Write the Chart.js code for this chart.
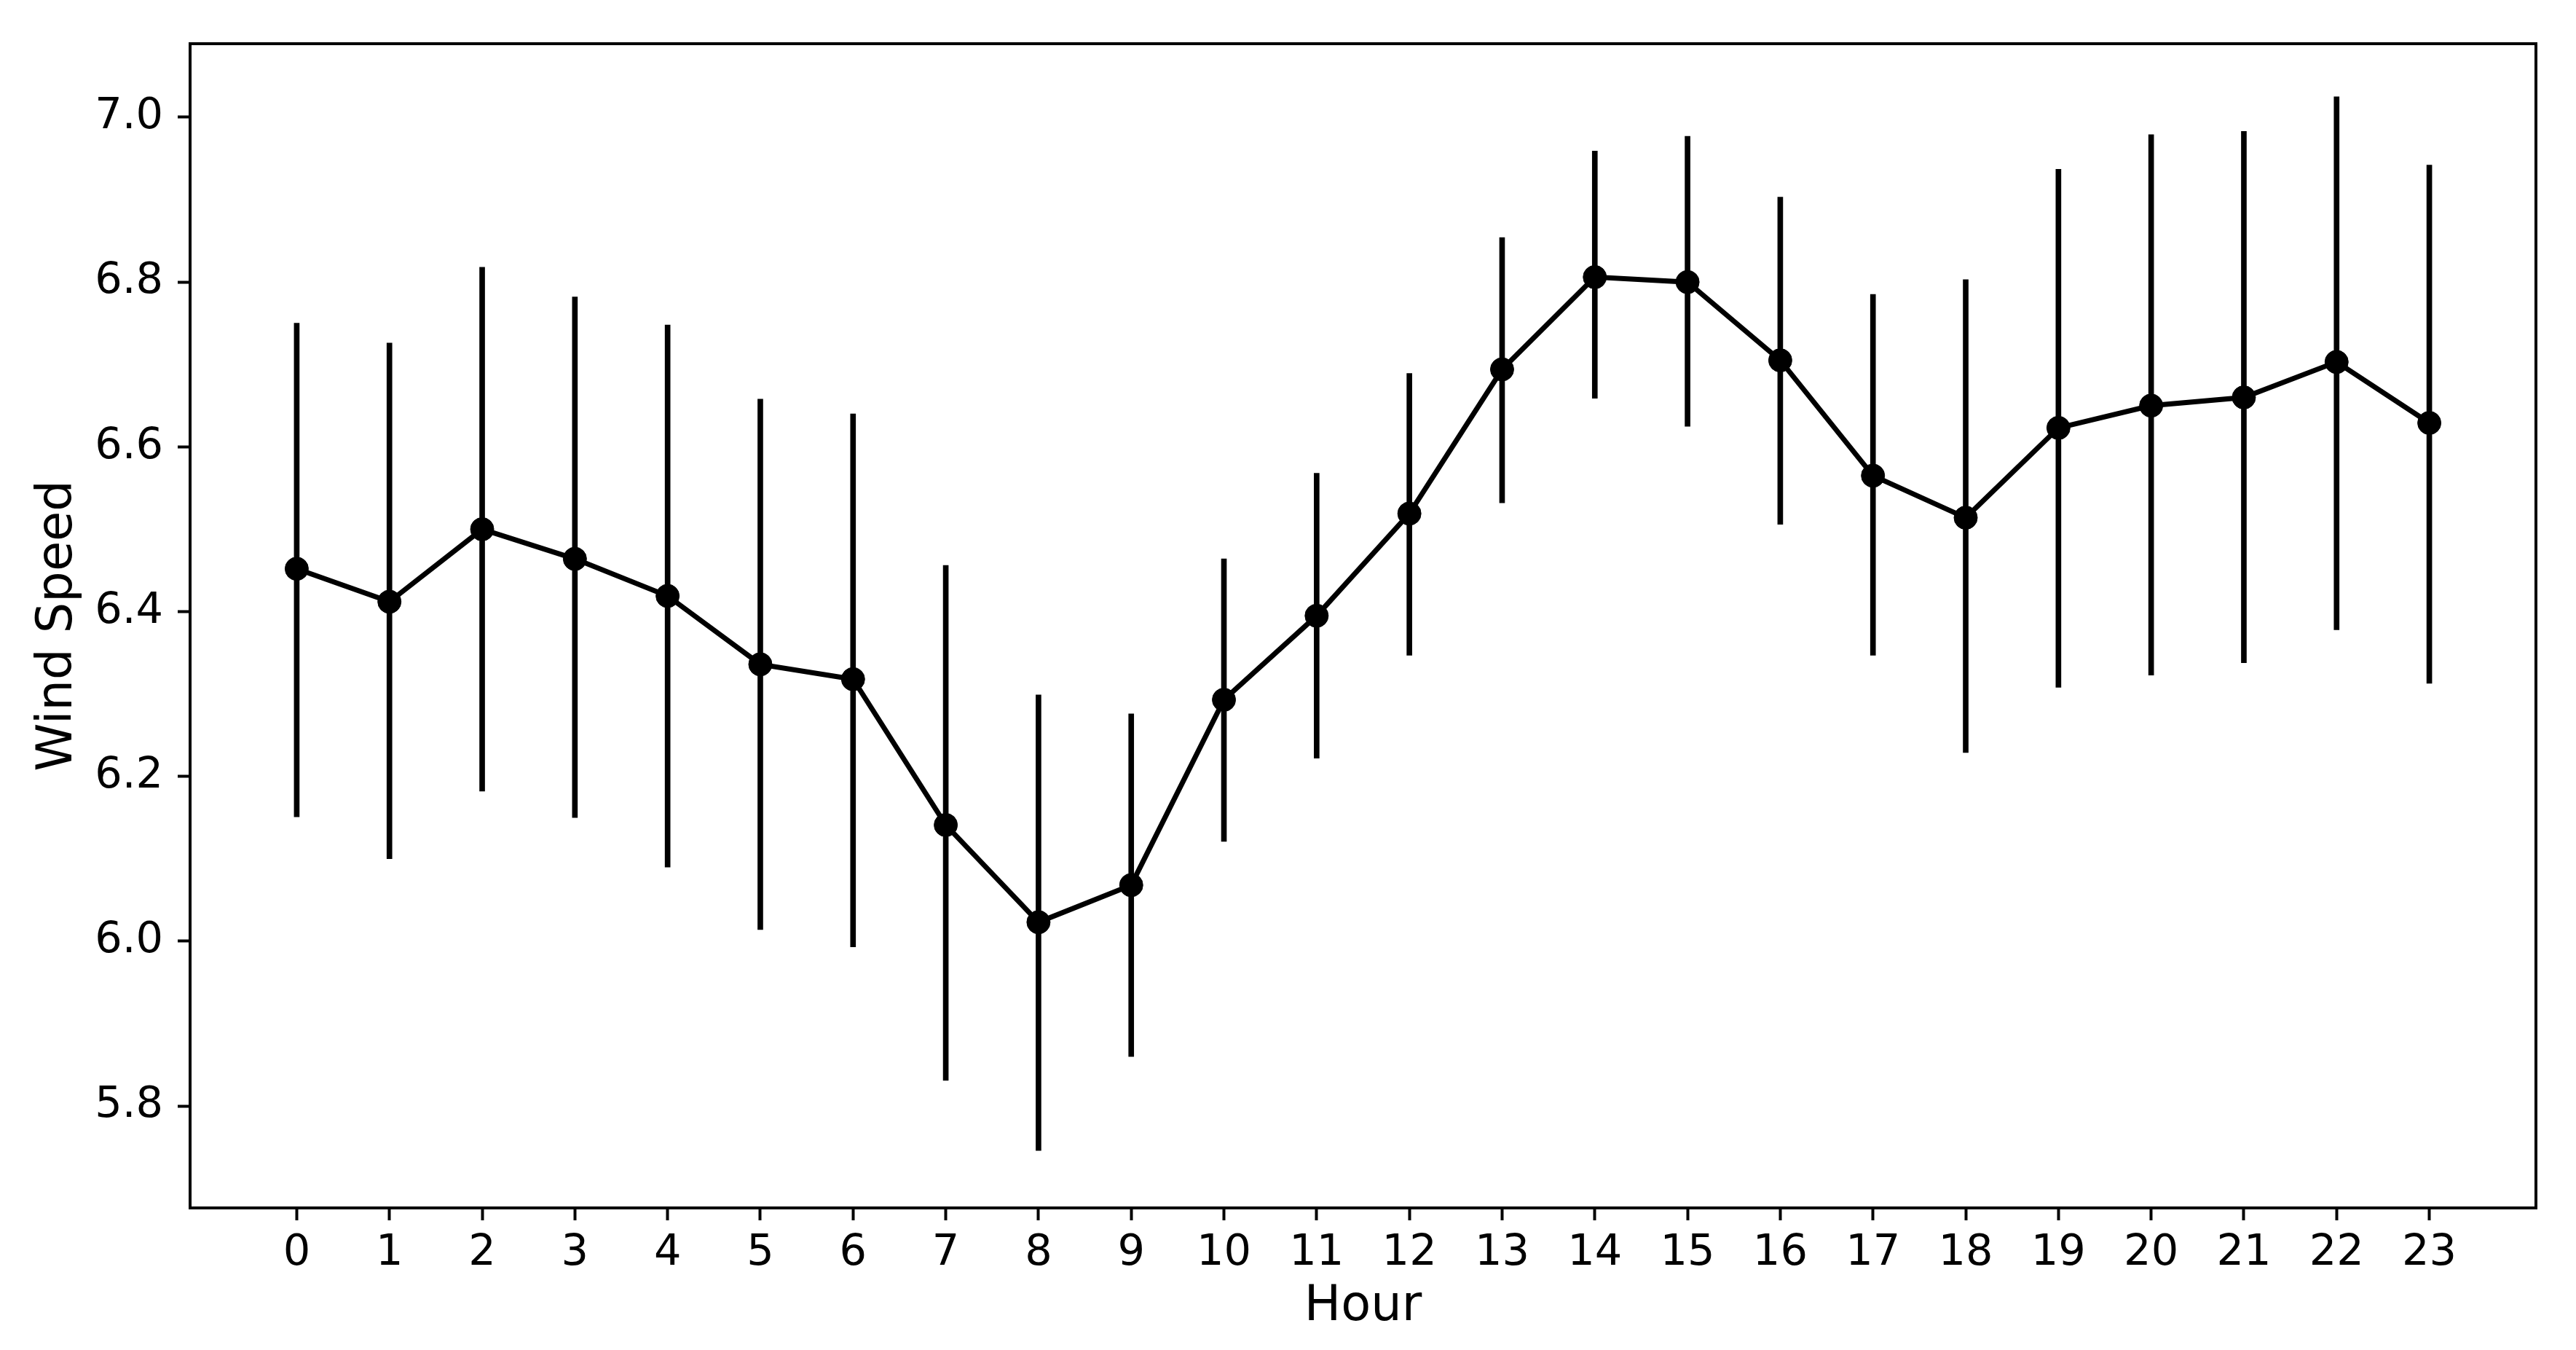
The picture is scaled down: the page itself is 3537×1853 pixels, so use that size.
<!DOCTYPE html>
<html>
<head>
<meta charset="utf-8">
<style>
  html, body { margin: 0; padding: 0; background: #ffffff; }
  #wrap { width: 3537px; height: 1853px; }
</style>
<script src="https://cdn.jsdelivr.net/npm/chart.js@4/dist/chart.umd.min.js"></script>
</head>
<body>
<div id="wrap"><canvas id="c" width="3537" height="1853"></canvas></div>
<script>
const hours = [0,1,2,3,4,5,6,7,8,9,10,11,12,13,14,15,16,17,18,19,20,21,22,23];
const meanSpeed = [6.452, 6.412, 6.500, 6.464, 6.419, 6.336, 6.318, 6.141, 6.023, 6.068, 6.293, 6.395,
                   6.519, 6.694, 6.806, 6.800, 6.705, 6.565, 6.514, 6.623, 6.650, 6.660, 6.703, 6.629];
const lowerSpeed = [6.151, 6.100, 6.182, 6.150, 6.090, 6.014, 5.993, 5.831, 5.746, 5.860, 6.121, 6.222,
                    6.347, 6.532, 6.659, 6.625, 6.506, 6.347, 6.229, 6.308, 6.323, 6.338, 6.378, 6.313];
const upperSpeed = [6.750, 6.726, 6.818, 6.782, 6.748, 6.658, 6.640, 6.456, 6.299, 6.276, 6.464, 6.568,
                    6.689, 6.854, 6.959, 6.977, 6.903, 6.785, 6.803, 6.937, 6.979, 6.983, 7.025, 6.942];
const yTickValues = [5.8, 6.0, 6.2, 6.4, 6.6, 6.8, 7.0];
const xTitle = 'Hour';
const yTitle = 'Wind Speed';

const FONT = "'DejaVu Sans', sans-serif";

const framePlugin = {
  id: 'frame',
  afterDatasetsDraw(chart) {
    const {ctx, chartArea: a} = chart;
    ctx.save();
    ctx.strokeStyle = '#000';
    ctx.lineWidth = 4;
    ctx.strokeRect(a.left, a.top, a.right - a.left, a.bottom - a.top);
    ctx.restore();
  }
};

new Chart(document.getElementById('c'), {
  type: 'line',
  data: {
    datasets: [
      {
        type: 'line',
        label: 'mean',
        data: hours.map((h, i) => ({x: h, y: meanSpeed[i]})),
        borderColor: '#000',
        backgroundColor: '#000',
        borderWidth: 7,
        pointRadius: 16,
        pointBorderWidth: 1,
        pointBackgroundColor: '#000',
        pointBorderColor: '#000',
        tension: 0,
        order: 1
      },
      {
        type: 'bar',
        label: 'ci',
        data: hours.map((h, i) => ({x: h, y: [lowerSpeed[i], upperSpeed[i]]})),
        backgroundColor: '#000',
        borderWidth: 0,
        barThickness: 7,
        grouped: false,
        order: 2
      }
    ]
  },
  options: {
    responsive: false,
    devicePixelRatio: 1,
    animation: false,
    layout: { padding: { top: 60, right: 55, left: 0, bottom: 0 } },
    plugins: { legend: { display: false }, tooltip: { enabled: false } },
    scales: {
      x: {
        type: 'linear',
        min: -1.15,
        max: 24.15,
        offset: false,
        border: { display: false },
        grid: { display: true, offset: false, drawOnChartArea: false, drawTicks: true, tickLength: 17, tickWidth: 4, tickColor: '#000' },
        ticks: {
          includeBounds: false,
          autoSkip: false,
          maxRotation: 0,
          padding: 10,
          color: '#000',
          font: { family: FONT, size: 59 },
          callback: (v) => String(v)
        },
        afterBuildTicks: (scale) => { scale.ticks = hours.map(h => ({value: h})); },
        afterFit: (scale) => { scale.height = 195; },
        title: {
          display: true,
          text: xTitle,
          color: '#000',
          font: { family: FONT, size: 67 },
          padding: { top: 0, bottom: 18 }
        }
      },
      y: {
        type: 'linear',
        min: 5.6762,
        max: 7.0893,
        border: { display: false },
        grid: { display: true, offset: false, drawOnChartArea: false, drawTicks: true, tickLength: 17, tickWidth: 4, tickColor: '#000' },
        ticks: {
          includeBounds: false,
          autoSkip: false,
          padding: 20,
          color: '#000',
          font: { family: FONT, size: 59 },
          callback: (v) => Number(v).toFixed(1)
        },
        afterBuildTicks: (scale) => { scale.ticks = yTickValues.map(v => ({value: v})); },
        afterFit: (scale) => { scale.width = 261; },
        title: {
          display: true,
          text: yTitle,
          color: '#000',
          font: { family: FONT, size: 67 },
          padding: { top: 40, bottom: 0 }
        }
      }
    }
  },
  plugins: [framePlugin]
});
</script>
</body>
</html>
